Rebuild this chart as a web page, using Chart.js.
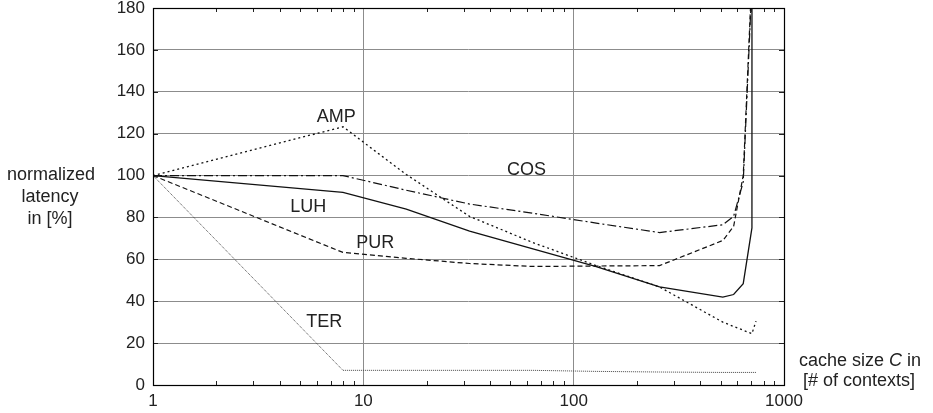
<!DOCTYPE html>
<html>
<head>
<meta charset="utf-8">
<script src="https://cdn.jsdelivr.net/npm/chart.js@4/dist/chart.umd.min.js"></script>
<style>
  html, body { margin: 0; padding: 0; background: #fff; }
  #wrap { width: 933px; height: 413px; position: relative; }
</style>
</head>
<body>
<div id="wrap"><canvas id="c" width="933" height="413"></canvas></div>
<script>
// ---- data ----
const xTicks = [1, 10, 100, 1000];
const yTicks = [0, 20, 40, 60, 80, 100, 120, 140, 160, 180];

const luhX = [1, 8, 16, 32, 64, 128, 256, 512, 576, 640, 704, 706];
const luhY = [100, 92, 84, 73.5, 65, 56.5, 46.8, 42, 43.2, 48.4, 75, 1000];

const ampX = [1, 8, 16, 32, 64, 128, 256, 512, 704, 736];
const ampY = [100, 123.3, 100.5, 80.5, 68, 57, 46.8, 30, 24.5, 30.5];

const cosX = [1, 8, 16, 32, 64, 128, 256, 512, 576, 640, 704];
const cosY = [100, 100, 93, 86.4, 82, 77.3, 72.8, 76.5, 80.5, 97, 192];

const purX = [1, 8, 16, 32, 64, 128, 256, 512, 576, 640, 704];
const purY = [100, 63.3, 60.5, 58, 56.6, 56.8, 57, 69, 75.7, 100, 196];

const terX = [1, 8, 16, 32, 64, 128, 256, 512, 736];
const terY = [100, 7, 7, 7, 7, 6.5, 6.2, 6, 6];

const seriesNames = ['LUH', 'AMP', 'COS', 'PUR', 'TER'];
// label anchor points in data coordinates
const labelX = [5.47, 7.44, 59.7, 11.4, 6.52];
const labelY = [85.1, 128, 102.7, 68, 30.3];

function pts(xs, ys) { return xs.map((x, i) => ({ x: x, y: ys[i] })); }

const FONT = '"Liberation Sans", Arial, Helvetica, sans-serif';

const styles = [
  { borderDash: [], borderWidth: 1.3, color: '#111' },
  { borderDash: [2, 3], borderWidth: 1.3, color: '#111' },
  { borderDash: [9, 3, 2, 3], borderWidth: 1.2, color: '#111' },
  { borderDash: [5, 3], borderWidth: 1.2, color: '#111' },
  { borderDash: [1, 1], borderWidth: 1, color: '#444' }
];
const seriesData = [pts(luhX, luhY), pts(ampX, ampY), pts(cosX, cosY), pts(purX, purY), pts(terX, terY)];

const datasets = seriesNames.map((n, i) => ({
  label: n,
  data: seriesData[i],
  borderColor: styles[i].color,
  borderWidth: styles[i].borderWidth,
  borderDash: styles[i].borderDash,
  pointRadius: 0,
  fill: false,
  tension: 0,
  clip: 0
}));

const decor = {
  id: 'decor',
  afterDatasetsDraw(chart) {
    const ctx = chart.ctx;
    const a = chart.chartArea;
    const xs = chart.scales.x, ys = chart.scales.y;
    ctx.save();
    ctx.strokeStyle = '#222';
    ctx.lineWidth = 1;
    for (let d = 1; d < 1000; d *= 10) {
      for (let m = 2; m <= 9; m++) {
        const px = Math.round(xs.getPixelForValue(d * m)) + 0.5;
        ctx.beginPath();
        ctx.moveTo(px, a.bottom); ctx.lineTo(px, a.bottom - 4);
        ctx.moveTo(px, a.top); ctx.lineTo(px, a.top + 4);
        ctx.stroke();
      }
    }
    yTicks.forEach(v => {
      const py = Math.round(ys.getPixelForValue(v)) + 0.5;
      ctx.beginPath();
      ctx.moveTo(a.right, py); ctx.lineTo(a.right - 5, py);
      ctx.moveTo(a.left, py); ctx.lineTo(a.left + 5, py);
      ctx.stroke();
    });
    ctx.strokeStyle = '#000';
    ctx.lineWidth = 1.2;
    ctx.strokeRect(Math.round(a.left) + 0.5, Math.round(a.top) + 0.5,
      Math.round(a.right - a.left), Math.round(a.bottom - a.top));
    ctx.fillStyle = '#222';
    ctx.font = '18px ' + FONT;
    ctx.textAlign = 'center';
    ctx.textBaseline = 'middle';
    seriesNames.forEach((n, i) => {
      ctx.fillText(n, xs.getPixelForValue(labelX[i]), ys.getPixelForValue(labelY[i]));
    });
    ctx.fillText('normalized', 51, 175);
    ctx.fillText('latency', 50, 197);
    ctx.fillText('in [%]', 50, 219);
    const p1 = 'cache size ', p2 = 'C', p3 = ' in';
    ctx.textAlign = 'left';
    const w1 = ctx.measureText(p1).width;
    ctx.font = 'italic 18px ' + FONT;
    const w2 = ctx.measureText(p2).width;
    ctx.font = '18px ' + FONT;
    const w3 = ctx.measureText(p3).width;
    let sx = 860 - (w1 + w2 + w3) / 2;
    ctx.fillText(p1, sx, 361);
    ctx.font = 'italic 18px ' + FONT;
    ctx.fillText(p2, sx + w1, 361);
    ctx.font = '18px ' + FONT;
    ctx.fillText(p3, sx + w1 + w2, 361);
    ctx.textAlign = 'center';
    ctx.fillText('[# of contexts]', 859, 381);
    ctx.restore();
  }
};

new Chart(document.getElementById('c'), {
  type: 'line',
  data: { datasets: datasets },
  plugins: [decor],
  options: {
    responsive: false,
    animation: false,
    layout: { padding: { left: 0, right: 149, top: 8, bottom: 0 } },
    plugins: { legend: { display: false }, tooltip: { enabled: false } },
    scales: {
      x: {
        type: 'logarithmic',
        min: 1, max: 1000,
        border: { display: false },
        grid: {
          drawTicks: false,
          color: ctx => (ctx.tick && xTicks.includes(ctx.tick.value) ? '#8c8c8c' : 'rgba(0,0,0,0)'),
          lineWidth: 1
        },
        afterBuildTicks: s => { s.ticks = xTicks.map(v => ({ value: v })); },
        ticks: {
          autoSkip: false,
          maxRotation: 0,
          padding: 6,
          color: '#222',
          font: { size: 17, family: FONT },
          callback: v => String(v)
        },
        afterFit: s => { s.height = 28; s.paddingLeft = 0; }
      },
      y: {
        min: 0, max: 180,
        border: { display: false },
        grid: { drawTicks: false, color: '#8c8c8c', lineWidth: 1 },
        afterBuildTicks: s => { s.ticks = yTicks.map(v => ({ value: v })); },
        ticks: {
          padding: 8,
          color: '#222',
          font: { size: 17, family: FONT },
          callback: v => String(v)
        },
        afterFit: s => { s.width = 153; s.paddingTop = 0; s.paddingBottom = 0; }
      }
    }
  }
});
</script>
</body>
</html>
